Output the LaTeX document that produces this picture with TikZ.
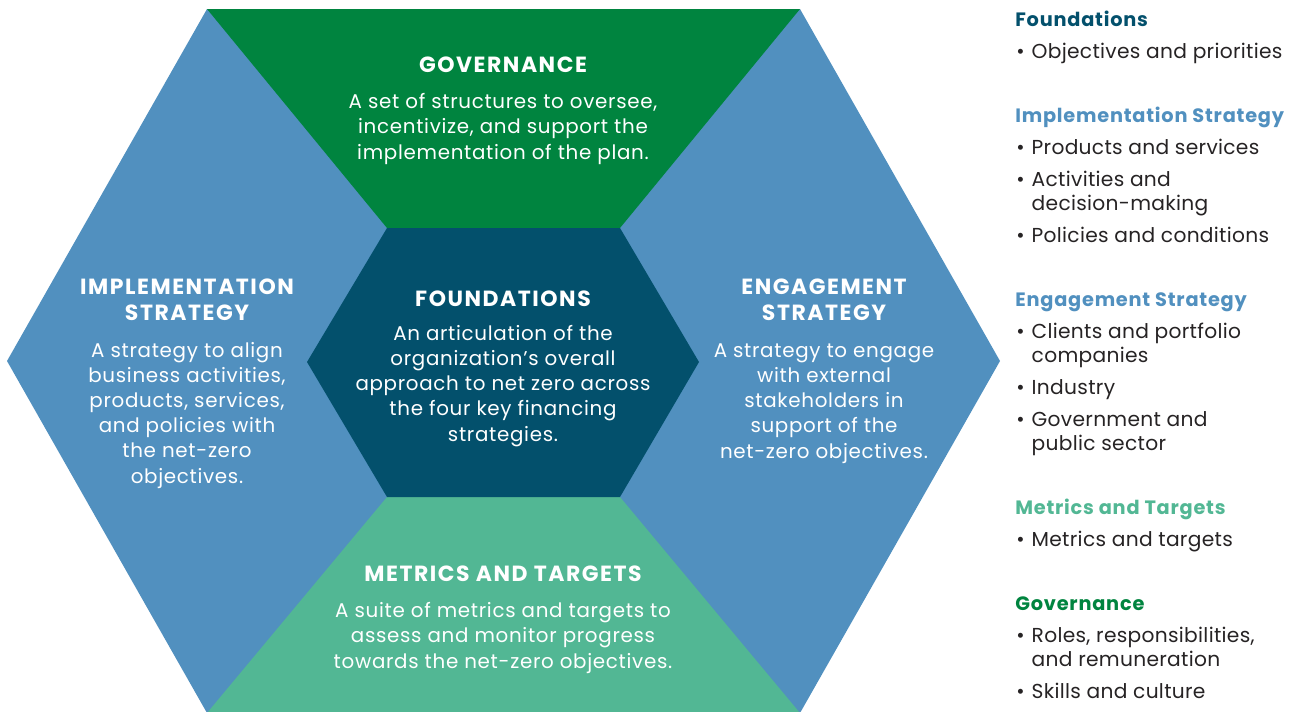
\documentclass[tikz,border=0pt]{standalone}
\usepackage{fontspec}
\setmainfont{Poppins}
\usetikzlibrary{positioning}

\definecolor{govgreen}{HTML}{00843F}
\definecolor{stratblue}{HTML}{5190BF}
\definecolor{metricgreen}{HTML}{52B794}
\definecolor{foundteal}{HTML}{03506C}
\definecolor{listgray}{HTML}{262324}

\newcommand{\TITLEFONT}{\fontsize{12.5}{14.3}\selectfont\bfseries\addfontfeatures{LetterSpace=7}}
\newcommand{\BODYFONT}{\fontsize{11.3}{14.3}\selectfont\addfontfeatures{LetterSpace=3.5}}
\newcommand{\HEADFONT}{\fontsize{11}{14.2}\selectfont\bfseries\addfontfeatures{LetterSpace=4}}
\newcommand{\LISTFONT}{\fontsize{11.5}{14.2}\selectfont\addfontfeatures{LetterSpace=1.5}}
\newcommand{\listentry}[1]{\textbullet\hspace{4pt}\begin{tabular}[t]{@{}l@{}}#1\end{tabular}}

\tikzset{
    hextitle/.style={anchor=base, align=center, inner sep=0pt, text=white, font=\TITLEFONT},
    hexbody/.style={anchor=base, align=center, inner sep=0pt, text=white, font=\BODYFONT},
    listhead/.style={anchor=base west, inner sep=0pt, font=\HEADFONT},
    listitem/.style={anchor=base west, inner sep=0pt, text=listgray, font=\LISTFONT}
}

\begin{document}
\begin{tikzpicture}[x=0.02cm, y=-0.02cm]
    \useasboundingbox (0, 0) rectangle (1298, 711);

    % outer hexagon
    \coordinate (oTL) at (207, 9);
    \coordinate (oTR) at (800, 9);
    \coordinate (oR) at (1000, 361);
    \coordinate (oBR) at (800, 713);
    \coordinate (oBL) at (207, 713);
    \coordinate (oL) at (7, 361);

    % inner hexagon
    \coordinate (iTL) at (387, 228);
    \coordinate (iTR) at (620, 228);
    \coordinate (iR) at (699, 362);
    \coordinate (iBR) at (620, 497);
    \coordinate (iBL) at (387, 497);
    \coordinate (iL) at (307, 362);

    % the two strategy wings fill the whole hexagon, the rest goes on top
    \fill[stratblue] (oTL) -- (oTR) -- (oR) -- (oBR) -- (oBL) -- (oL) -- cycle;
    \fill[govgreen] (oTL) -- (oTR) -- (iTR) -- (iTL) -- cycle;
    \fill[metricgreen] (iBL) -- (iBR) -- (oBR) -- (oBL) -- cycle;
    \fill[foundteal] (iTL) -- (iTR) -- (iR) -- (iBR) -- (iBL) -- (iL) -- cycle;

    % texts in the hexagon (base = baseline of the last line)
    \node[hextitle] (govtitle) at (503, 72) {GOVERNANCE};
    \node[hexbody] (govbody) at (503, 159) {A set of structures to oversee,\\incentivize, and support the\\implementation of the plan.};

    \node[hextitle] (imptitle) at (187, 320) {IMPLEMENTATION\\STRATEGY};
    \node[hexbody] (impbody) at (187, 483) {A strategy to align\\business activities,\\products, services,\\and policies with\\the net-zero\\objectives.};

    \node[hextitle] (fndtitle) at (503, 306) {FOUNDATIONS};
    \node[hexbody] (fndbody) at (503, 441) {An articulation of the\\organization’s overall\\approach to net zero across\\the four key financing\\strategies.};

    \node[hextitle] (engtitle) at (824, 320) {ENGAGEMENT\\STRATEGY};
    \node[hexbody] (engbody) at (824, 458) {A strategy to engage\\with external\\stakeholders in\\support of the\\net-zero objectives.};

    \node[hextitle] (mettitle) at (503, 581) {METRICS AND TARGETS};
    \node[hexbody] (metbody) at (503, 668) {A suite of metrics and targets to\\assess and monitor progress\\towards the net-zero objectives.};

    % list on the right
    \node[listhead, text=foundteal] (hfnd) at (1015, 26) {Foundations};
    \node[listitem] (lfnd1) at (1016, 58) {\listentry{Objectives and priorities}};

    \node[listhead, text=stratblue] (himp) at (1015, 122) {Implementation Strategy};
    \node[listitem] (limp1) at (1016, 154) {\listentry{Products and services}};
    \node[listitem] (limp2) at (1016, 186) {\listentry{Activities and\\decision-making}};
    \node[listitem] (limp3) at (1016, 242) {\listentry{Policies and conditions}};

    \node[listhead, text=stratblue] (heng) at (1015, 306) {Engagement Strategy};
    \node[listitem] (leng1) at (1016, 338) {\listentry{Clients and portfolio\\companies}};
    \node[listitem] (leng2) at (1016, 394) {\listentry{Industry}};
    \node[listitem] (leng3) at (1016, 426) {\listentry{Government and\\public sector}};

    \node[listhead, text=metricgreen] (hmet) at (1015, 514) {Metrics and Targets};
    \node[listitem] (lmet1) at (1016, 546) {\listentry{Metrics and targets}};

    \node[listhead, text=govgreen] (hgov) at (1015, 610) {Governance};
    \node[listitem] (lgov1) at (1016, 642) {\listentry{Roles, responsibilities,\\and remuneration}};
    \node[listitem] (lgov2) at (1016, 698) {\listentry{Skills and culture}};
\end{tikzpicture}
\end{document}
